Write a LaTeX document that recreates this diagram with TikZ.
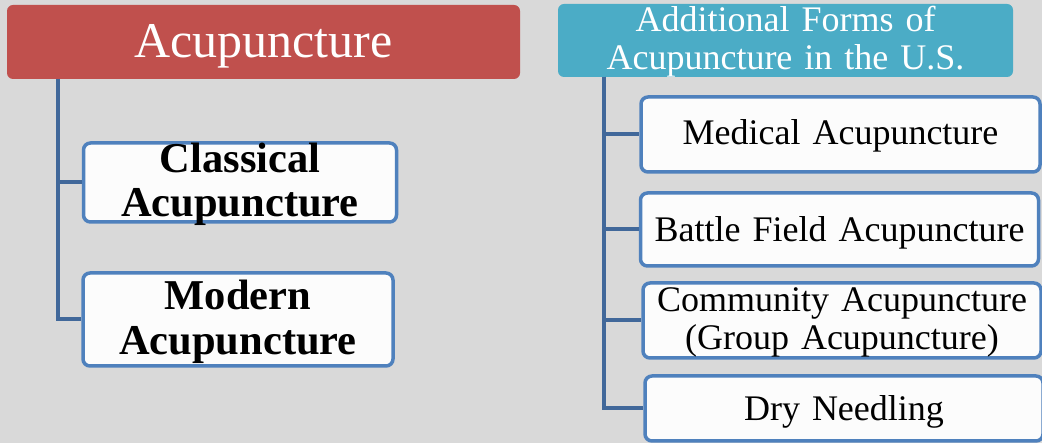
\documentclass[tikz,border=0pt]{standalone}
\usepackage{fontspec}
\setmainfont{Liberation Serif}
\usepackage{tikz}
\definecolor{bgray}{RGB}{217,217,217}
\definecolor{headred}{RGB}{192,80,77}
\definecolor{headteal}{RGB}{75,172,198}
\definecolor{leafblue}{RGB}{79,129,189}
\definecolor{trunkblue}{RGB}{65,104,154}
\tikzset{
    head/.style={rectangle, rounded corners=6pt, inner sep=0pt, align=center,
    	text=white}
}
\tikzset{
    leaf/.style={rectangle, rounded corners=7pt, draw=leafblue, line width=3.5pt,
    	fill=white!99!black, inner sep=0pt, align=center, text=black}
}
\tikzset{
    trunk/.style={draw=trunkblue, line width=4pt}
}
\begin{document}
\begin{tikzpicture}[x=1pt, y=-1pt]
  \fill[bgray] (0,0) rectangle (1042,443);
  \useasboundingbox (0,0) rectangle (1042,443);

  \node (acu) [head, fill=headred, text width=513pt, text height=53pt,
    text depth=21pt, font=\fontsize{50}{52}\selectfont] at (263.5, 42)
    {Acupuncture};
  \node (forms) [head, fill=headteal, text width=455pt, text height=28pt,
    text depth=45pt, font=\fontsize{36}{38}\selectfont] at (785.5, 40.5)
    {Additional Forms of\\Acupuncture in the U.S.};

  \coordinate (acu-root) at (58, 79);
  \coordinate (forms-root) at (603.5, 77);

  \node (classical) [leaf, text width=313pt, text height=30pt, text depth=49pt,
    font=\bfseries\fontsize{42.5}{44}\selectfont] at (240, 182.5)
    {Classical\\Acupuncture};
  \node (modern) [leaf, text width=310pt, text height=37pt, text depth=56pt,
    font=\bfseries\fontsize{42.5}{44.5}\selectfont] at (238, 319.5)
    {Modern\\Acupuncture};

  \node (medical) [leaf, text width=399pt, text height=48pt, text depth=27pt,
    font=\fontsize{36}{38}\selectfont] at (840.5, 134.5)
    {Medical Acupuncture};
  \node (battle) [leaf, text width=398pt, text height=49pt, text depth=24pt,
    font=\fontsize{36}{38}\selectfont] at (839.5, 229.5)
    {Battle Field Acupuncture};
  \node (community) [leaf, text width=398pt, text height=29pt, text depth=46pt,
    font=\fontsize{36}{37.5}\selectfont] at (842, 320.5)
    {Community Acupuncture\\(Group Acupuncture)};
  \node (dry) [leaf, text width=398pt, text height=45pt, text depth=20pt,
    font=\fontsize{36}{38}\selectfont] at (844, 408.5)
    {Dry Needling};

  \draw[trunk] (acu-root) |- (classical.west);
  \draw[trunk] (acu-root) |- (modern.west);
  \draw[trunk] (forms-root) |- (medical.west);
  \draw[trunk] (forms-root) |- (battle.west);
  \draw[trunk] (forms-root) |- (community.west);
  \draw[trunk] (forms-root) |- (dry.west);
\end{tikzpicture}
\end{document}
